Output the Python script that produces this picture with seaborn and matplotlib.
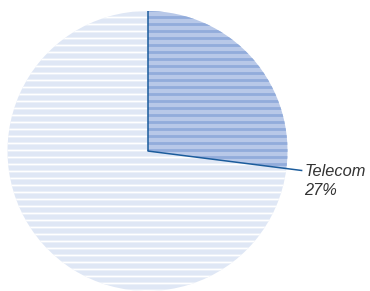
import matplotlib
matplotlib.use("Agg")
import matplotlib.pyplot as plt
import numpy as np
import seaborn as sns

sns.set_style("white")
plt.rcParams["font.family"] = ["Liberation Sans", "DejaVu Sans"]

labels = ["Telecom", "Other"]
shares = [27, 73]
show_label = [True, False]

face_colors = ["#b8c8e8", "#dfe7f5"]
stripe_colors = ["#92acdb", "#ffffff"]
stripe_widths = [2.4, 1.5]
edge_line = "#1b5c9c"

DPI = 84
fig = plt.figure(figsize=(370 / DPI, 291 / DPI), dpi=DPI)
ax = fig.add_axes([7.5 / 370, 0, 280 / 370, 280 / 291])

wedges, _ = ax.pie(shares, startangle=90, counterclock=False, radius=1,
                   colors=face_colors, wedgeprops={"linewidth": 0})

for w, sc, sw in zip(wedges, stripe_colors, stripe_widths):
    w.set_hatch("--")
    w.set_edgecolor(sc)
    w.set_linewidth(0)
    if hasattr(w, "set_hatch_linewidth"):
        w.set_hatch_linewidth(sw)

# radius lines and leader for the highlighted slice
for w, lab, pct, show in zip(wedges, labels, shares, show_label):
    if not show:
        continue
    t1, t2 = np.deg2rad(w.theta1), np.deg2rad(w.theta2)
    ax.plot([0, np.cos(t2)], [0, np.sin(t2)], color=edge_line, lw=1.3,
            solid_capstyle="butt", clip_on=False, zorder=5)
    ax.plot([0, 1.115 * np.cos(t1)], [0, 1.115 * np.sin(t1)], color=edge_line,
            lw=1.3, solid_capstyle="butt", clip_on=False, zorder=5)
    ax.text(1.122 * np.cos(t1) + 0.005, 1.122 * np.sin(t1) + 0.05,
            f"{lab}\n{pct}%", ha="left", va="top", fontsize=14,
            fontstyle="italic", color="#333333", linespacing=1.4)

ax.set_xlim(-1, 1)
ax.set_ylim(-1, 1)
ax.set_aspect("auto")
ax.axis("off")

fig.savefig("out.png", dpi=DPI)
plt.close(fig)
